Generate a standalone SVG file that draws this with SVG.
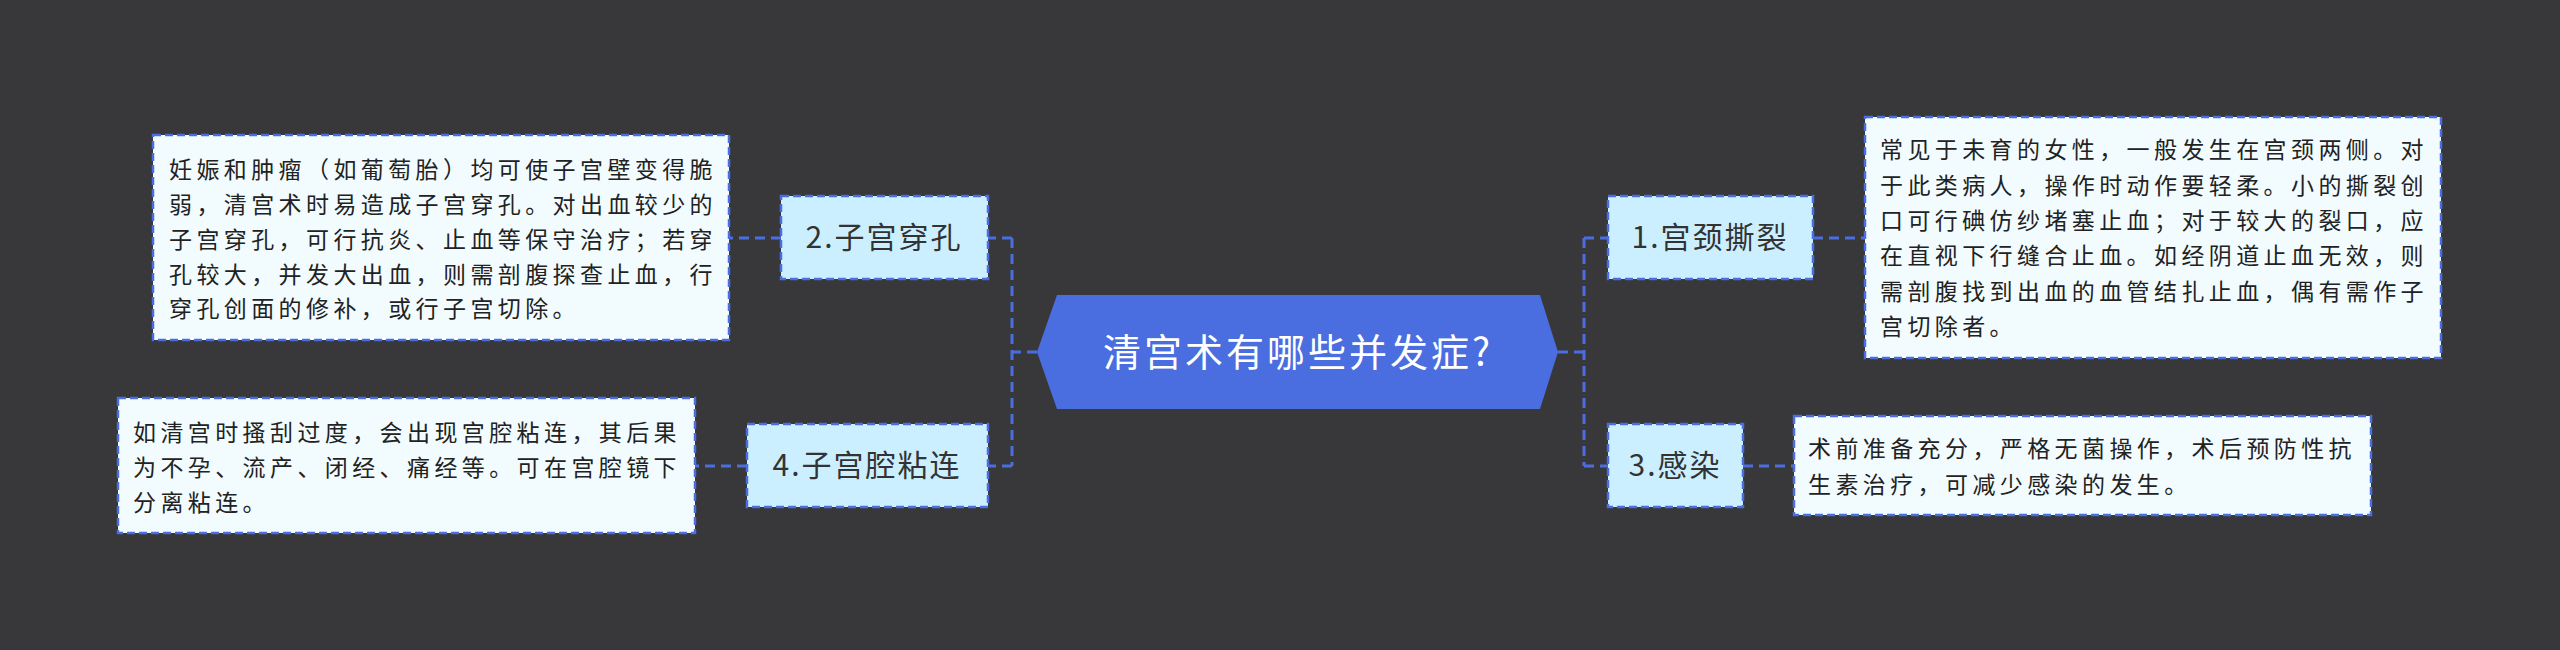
<svg xmlns="http://www.w3.org/2000/svg" width="2560" height="650" viewBox="0 0 2560 650">
<style>
.bg{fill:#38373a}
.node{fill:#ccefff;stroke:#4a6ee0;stroke-width:2.5;stroke-dasharray:8 4}
.box{fill:#f2fcff;stroke:#4a6ee0;stroke-width:2.5;stroke-dasharray:8 4}
.lt{font-family:"Noto Sans CJK SC","Noto Sans",sans-serif;font-size:30px;fill:#333;letter-spacing:2px}
.bt{font-family:"Noto Sans CJK SC","Noto Sans",sans-serif;font-size:23px;fill:#222;letter-spacing:4.4px}
.conn{fill:none;stroke:#4a6ee0;stroke-width:3;stroke-dasharray:10 6}
</style>
<rect class="bg" x="0" y="0" width="2560" height="650"/>
<g id="connectors">
<path class="conn" d="M1037 352 H1012 M1012 238 V466 M1012 238 H988 M1012 466 H988"/>
<path class="conn" d="M1558 352 H1584 M1584 238 V466 M1584 238 H1608 M1584 466 H1608"/>
<path class="conn" d="M781 238 H729 M747 466 H695 M1813 238 H1865 M1743 466 H1794"/>
</g>
<g id="center">
<polygon points="1037,352 1057,295 1540,295 1558,352 1540,409 1057,409" fill="#4a6ee0"/>
<text x="1298" y="366" text-anchor="middle" font-family="Noto Sans CJK SC,sans-serif" font-size="38" letter-spacing="3" fill="#fff">清宫术有哪些并发症?</text>
</g>
<g id="n2">
<rect class="node" x="781" y="196" width="207" height="83"/>
<text class="lt" x="884" y="248" text-anchor="middle">2.子宫穿孔</text>
</g>
<g id="n2text">
<rect class="box" x="153" y="135" width="576" height="205"/>
<text class="bt"><tspan x="169" y="178">妊娠和肿瘤（如葡萄胎）均可使子宫壁变得脆</tspan><tspan x="169" y="213">弱，清宫术时易造成子宫穿孔。对出血较少的</tspan><tspan x="169" y="248">子宫穿孔，可行抗炎、止血等保守治疗；若穿</tspan><tspan x="169" y="283">孔较大，并发大出血，则需剖腹探查止血，行</tspan><tspan x="169" y="317">穿孔创面的修补，或行子宫切除。</tspan></text>
</g>
<g id="n4">
<rect class="node" x="747" y="424" width="241" height="83"/>
<text class="lt" x="867" y="476" text-anchor="middle">4.子宫腔粘连</text>
</g>
<g id="n4text">
<rect class="box" x="118" y="398" width="577" height="135"/>
<text class="bt"><tspan x="133" y="441">如清宫时搔刮过度，会出现宫腔粘连，其后果</tspan><tspan x="133" y="476">为不孕、流产、闭经、痛经等。可在宫腔镜下</tspan><tspan x="133" y="511">分离粘连。</tspan></text>
</g>
<g id="n1">
<rect class="node" x="1608" y="196" width="205" height="83"/>
<text class="lt" x="1710" y="248" text-anchor="middle">1.宫颈撕裂</text>
</g>
<g id="n1text">
<rect class="box" x="1865" y="117" width="576" height="241"/>
<text class="bt"><tspan x="1880" y="158">常见于未育的女性，一般发生在宫颈两侧。对</tspan><tspan x="1880" y="194">于此类病人，操作时动作要轻柔。小的撕裂创</tspan><tspan x="1880" y="229">口可行碘仿纱堵塞止血；对于较大的裂口，应</tspan><tspan x="1880" y="264">在直视下行缝合止血。如经阴道止血无效，则</tspan><tspan x="1880" y="300">需剖腹找到出血的血管结扎止血，偶有需作子</tspan><tspan x="1880" y="335">宫切除者。</tspan></text>
</g>
<g id="n3">
<rect class="node" x="1608" y="424" width="135" height="83"/>
<text class="lt" x="1675" y="476" text-anchor="middle">3.感染</text>
</g>
<g id="n3text">
<rect class="box" x="1794" y="416" width="577" height="99"/>
<text class="bt"><tspan x="1808" y="457">术前准备充分，严格无菌操作，术后预防性抗</tspan><tspan x="1808" y="493">生素治疗，可减少感染的发生。</tspan></text>
</g>
</svg>
